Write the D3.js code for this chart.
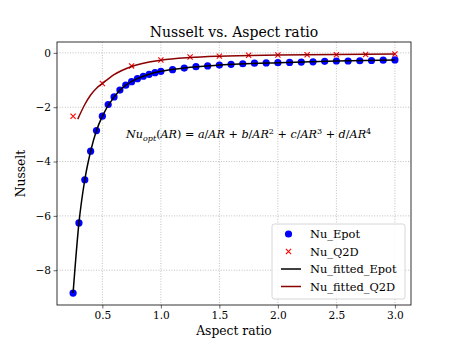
<!DOCTYPE html>
<meta charset="utf-8">
<script src="https://d3js.org/d3.v7.min.js"></script>
<style>
  body { margin: 0; background: #fff; }
  text { font-family: "DejaVu Serif", serif; }
</style>
<body>
<svg width="457" height="343"></svg>
<script>
    // aspect ratio samples and Nusselt values
    var arEpot = [0.25, 0.30, 0.35, 0.40, 0.45, 0.50, 0.55, 0.60, 0.65, 0.70, 0.75, 0.80, 0.85, 0.90, 0.95, 1.00,
                  1.1, 1.2, 1.3, 1.4, 1.5, 1.6, 1.7, 1.8, 1.9, 2.0, 2.1, 2.2, 2.3, 2.4, 2.5, 2.6, 2.7, 2.8, 2.9, 3.0];
    var nuEpot = [-8.84, -6.26, -4.67, -3.62, -2.86, -2.33, -1.90, -1.62, -1.37, -1.19, -1.06, -0.95, -0.86, -0.79, -0.73, -0.68,
                  -0.62, -0.56, -0.51, -0.48, -0.45, -0.42, -0.40, -0.38, -0.37, -0.36, -0.35, -0.34, -0.33, -0.31, -0.30, -0.30, -0.29, -0.28, -0.27, -0.26];
    var arQ2D  = [0.25, 0.50, 0.75, 1.00, 1.25, 1.50, 1.75, 2.00, 2.25, 2.50, 2.75, 3.00];
    var nuQ2D  = [-2.33, -1.13, -0.48, -0.26, -0.15, -0.12, -0.09, -0.08, -0.07, -0.07, -0.06, -0.04];
    // fitted curves
    var arFitEpot = [0.25, 0.30, 0.35, 0.40, 0.45, 0.50, 0.60, 0.70, 0.80, 0.90, 1.00, 1.25, 1.50, 2.00, 2.50, 3.00];
    var nuFitEpot = [-8.84, -6.26, -4.67, -3.62, -2.86, -2.33, -1.62, -1.19, -0.95, -0.79, -0.68, -0.53, -0.45, -0.36, -0.30, -0.26];
    var arFitQ2D  = [0.29, 0.35, 0.40, 0.45, 0.50, 0.60, 0.75, 1.00, 1.25, 1.50, 2.00, 2.50, 3.00];
    var nuFitQ2D  = [-2.44, -1.90, -1.55, -1.30, -1.13, -0.80, -0.50, -0.27, -0.17, -0.12, -0.08, -0.06, -0.04];
    var xTicks = [0.5, 1.0, 1.5, 2.0, 2.5, 3.0];
    var yTicks = [-8, -6, -4, -2, 0];
    var legendLabels = ['Nu_Epot', 'Nu_Q2D', 'Nu_fitted_Epot', 'Nu_fitted_Q2D'];

    var box = {left: 57, right: 411, top: 42, bottom: 305};
    var svg = d3.select('svg');

    var pad = function(ext){ var r = ext[1] - ext[0]; return [ext[0] - 0.05 * r, ext[1] + 0.05 * r]; };
    var allAR = arEpot.concat(arQ2D), allNu = nuEpot.concat(nuQ2D);

    var x = d3.scaleLinear().domain(pad(d3.extent(allAR))).range([box.left, box.right]);
    var y = d3.scaleLinear().domain(pad(d3.extent(allNu))).range([box.bottom, box.top]);

    var fmtX = d3.format('.1f');
    var fmtY = function(d){ return d < 0 ? '\u2212' + Math.abs(d) : '' + d; };

    // grid
    var grid = svg.append('g').attr('stroke', '#b0b0b0').attr('stroke-width', 0.8).attr('stroke-dasharray', '1,1.6');
    grid.selectAll('line.gx').data(xTicks).enter().append('line')
        .attr('x1', function(d){ return x(d); }).attr('x2', function(d){ return x(d); })
        .attr('y1', box.top).attr('y2', box.bottom);
    grid.selectAll('line.gy').data(yTicks).enter().append('line')
        .attr('y1', function(d){ return y(d); }).attr('y2', function(d){ return y(d); })
        .attr('x1', box.left).attr('x2', box.right);

    // axes
    var xAxis = svg.append('g').attr('transform', 'translate(0,' + box.bottom + ')')
        .call(d3.axisBottom(x).tickValues(xTicks).tickFormat(fmtX).tickSizeInner(3.5).tickSizeOuter(0).tickPadding(2.5));
    var yAxis = svg.append('g').attr('transform', 'translate(' + box.left + ',0)')
        .call(d3.axisLeft(y).tickValues(yTicks).tickFormat(fmtY).tickSizeInner(3.5).tickSizeOuter(0).tickPadding(2.5));
    [xAxis, yAxis].forEach(function(a){
        a.select('.domain').remove();
        a.selectAll('text').attr('font-family', '"DejaVu Serif", serif').attr('font-size', 10.6).attr('fill', '#000');
        a.selectAll('line').attr('stroke', '#000').attr('stroke-width', 0.6);
    });

    // lines
    var line = function(xs, ys){
        return d3.line().curve(d3.curveMonotoneX)
            .x(function(d, i){ return x(xs[i]); })
            .y(function(d, i){ return y(ys[i]); })(xs);
    };

    // markers
    svg.append('g').selectAll('circle').data(arEpot).enter().append('circle')
        .attr('cx', function(d){ return x(d); })
        .attr('cy', function(d, i){ return y(nuEpot[i]); })
        .attr('r', 3.6).attr('fill', '#0000ff');

    svg.append('path').attr('d', line(arFitEpot, nuFitEpot))
        .attr('fill', 'none').attr('stroke', '#000').attr('stroke-width', 1.5);

    var xm = 2.6;
    svg.append('g').selectAll('path').data(arQ2D).enter().append('path')
        .attr('d', function(d, i){
            var cx = x(d), cy = y(nuQ2D[i]);
            return 'M' + (cx - xm) + ',' + (cy - xm) + 'L' + (cx + xm) + ',' + (cy + xm) +
                   'M' + (cx - xm) + ',' + (cy + xm) + 'L' + (cx + xm) + ',' + (cy - xm);
        })
        .attr('stroke', '#ff0000').attr('stroke-width', 1.1).attr('fill', 'none');

    svg.append('path').attr('d', line(arFitQ2D, nuFitQ2D))
        .attr('fill', 'none').attr('stroke', '#8b0000').attr('stroke-width', 1.5);

    // frame
    svg.append('rect').attr('x', box.left).attr('y', box.top)
        .attr('width', box.right - box.left).attr('height', box.bottom - box.top)
        .attr('fill', 'none').attr('stroke', '#000').attr('stroke-width', 0.8);

    // title and labels
    svg.append('text').attr('x', (box.left + box.right) / 2).attr('y', 36.5)
        .attr('text-anchor', 'middle').attr('font-size', 14).text('Nusselt vs. Aspect ratio');
    svg.append('text').attr('x', (box.left + box.right) / 2).attr('y', 335)
        .attr('text-anchor', 'middle').attr('font-size', 12.3).text('Aspect ratio');
    svg.append('text').attr('transform', 'translate(25,' + ((box.top + box.bottom) / 2) + ') rotate(-90)')
        .attr('text-anchor', 'middle').attr('font-size', 12.3).text('Nusselt');

    // fit formula
    var eq = svg.append('text').attr('x', 126).attr('y', 138)
        .attr('font-family', '"DejaVu Sans", sans-serif').attr('font-size', 11.2);
    var parts = [
        ['Nu', 'i', 0], ['opt', 'i', 'sub'], ['(', 'n', 0], ['AR', 'i', 0], [') = ', 'n', 0],
        ['a', 'i', 0], ['/', 'n', 0], ['AR', 'i', 0], [' + ', 'n', 0],
        ['b', 'i', 0], ['/', 'n', 0], ['AR', 'i', 0], ['2', 'n', 'sup'], [' + ', 'n', 0],
        ['c', 'i', 0], ['/', 'n', 0], ['AR', 'i', 0], ['3', 'n', 'sup'], [' + ', 'n', 0],
        ['d', 'i', 0], ['/', 'n', 0], ['AR', 'i', 0], ['4', 'n', 'sup']
    ];
    var shift = 0;
    parts.forEach(function(p){
        var dy = 0, size = 11.2;
        if (p[2] === 'sub') { dy = 3 - shift; shift = 3; size = 8; }
        else if (p[2] === 'sup') { dy = -4.5 - shift; shift = -4.5; size = 8; }
        else { dy = -shift; shift = 0; }
        eq.append('tspan').attr('dy', dy).attr('font-size', size)
            .attr('font-style', p[1] === 'i' ? 'italic' : 'normal')
            .style('white-space', 'pre').text(p[0]);
    });

    // legend
    var lg = svg.append('g').attr('transform', 'translate(272,224)');
    lg.append('rect').attr('width', 133).attr('height', 75).attr('rx', 2.5)
        .attr('fill', '#fff').attr('fill-opacity', 0.8).attr('stroke', '#cccccc').attr('stroke-width', 0.8);
    var rows = lg.selectAll('g.row').data(legendLabels).enter().append('g')
        .attr('transform', function(d, i){ return 'translate(0,' + (10 + i * 17.5) + ')'; });
    rows.append('text').attr('x', 38).attr('y', 4).attr('font-size', 11.4).text(function(d){ return d; });
    rows.filter(function(d, i){ return i === 0; }).append('circle').attr('cx', 16.5).attr('r', 3.6).attr('fill', '#0000ff');
    rows.filter(function(d, i){ return i === 1; }).append('path')
        .attr('d', 'M' + (16.5 - xm) + ',' + (-xm) + 'L' + (16.5 + xm) + ',' + xm + 'M' + (16.5 - xm) + ',' + xm + 'L' + (16.5 + xm) + ',' + (-xm))
        .attr('stroke', '#ff0000').attr('stroke-width', 1.1);
    rows.filter(function(d, i){ return i >= 2; }).append('line').attr('x1', 9).attr('x2', 29)
        .attr('stroke', function(d, i){ return i === 0 ? '#000' : '#8b0000'; }).attr('stroke-width', 1.5);
</script>
</body>
